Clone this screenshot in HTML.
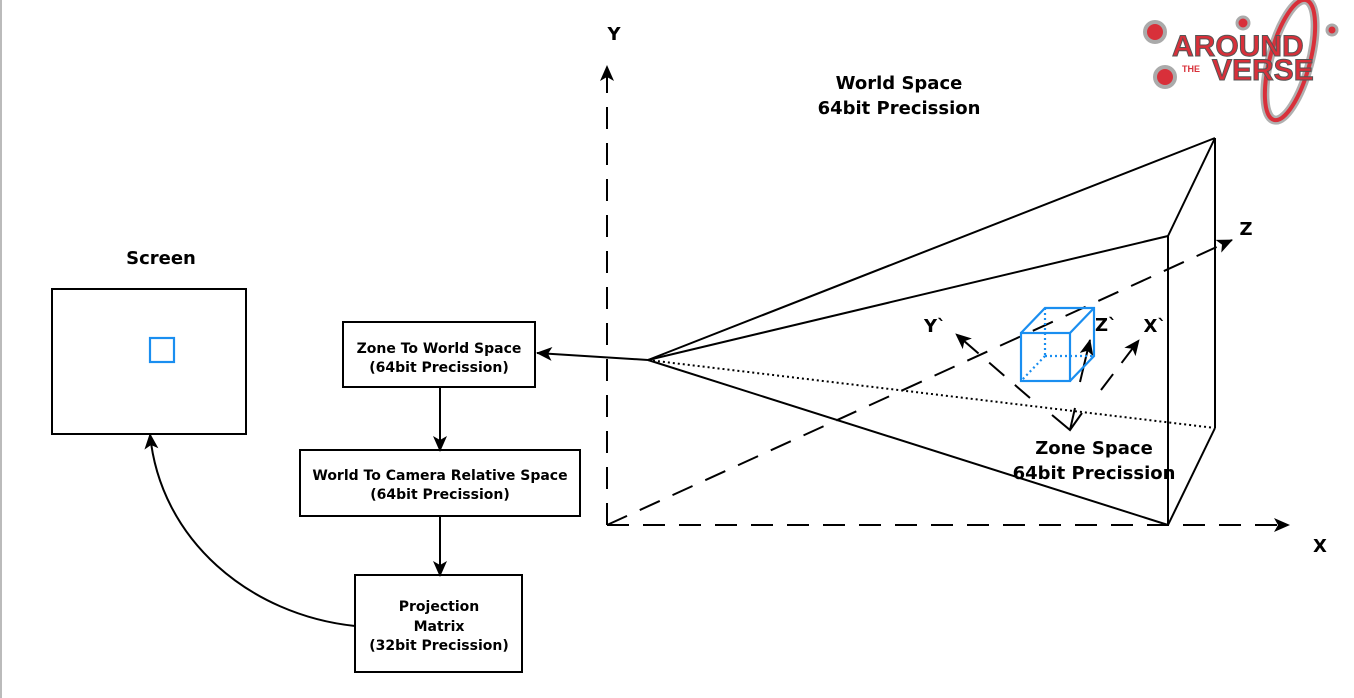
<!DOCTYPE html>
<html><head><style>
body{margin:0;background:#fff;}
svg{display:block;font-family:"DejaVu Sans","Liberation Sans",sans-serif;}
.l{font-size:18px;font-weight:bold;}
.m{font-size:18px;font-weight:bold;}
.s{font-size:14px;font-weight:bold;}
</style></head><body>
<svg width="1354" height="698" viewBox="0 0 1354 698">
<defs>
<marker id="a" markerWidth="18" markerHeight="16" refX="15" refY="7" orient="auto" markerUnits="userSpaceOnUse"><path d="M0,0 L16,7 L0,14 L4,7z" fill="#000"/></marker>
</defs>
<rect x="0" y="0" width="2" height="698" fill="#bbb"/>
<g stroke="#000" stroke-width="2" fill="none">
<line x1="607" y1="525" x2="607" y2="66" stroke-dasharray="22,14" marker-end="url(#a)"/>
<line x1="607" y1="525" x2="1289" y2="525" stroke-dasharray="22,14" marker-end="url(#a)"/>
<line x1="607" y1="525" x2="1232" y2="240" stroke-dasharray="22,14" marker-end="url(#a)"/>
<line x1="648" y1="360" x2="1215" y2="138"/>
<line x1="648" y1="360" x2="1168" y2="236"/>
<line x1="648" y1="360" x2="1168" y2="525"/>
<line x1="648" y1="360" x2="1215" y2="428" stroke-dasharray="2,3"/>
<line x1="1168" y1="236" x2="1168" y2="525"/>
<line x1="1215" y1="138" x2="1215" y2="428"/>
<line x1="1168" y1="236" x2="1215" y2="138"/>
<line x1="1168" y1="525" x2="1215" y2="428"/>
<line x1="1030" y1="398" x2="956" y2="334" stroke-dasharray="20,14" marker-end="url(#a)"/>
<line x1="1101" y1="390" x2="1139" y2="340" stroke-dasharray="20,14" marker-end="url(#a)"/>
<line x1="1080" y1="382" x2="1090" y2="340" marker-end="url(#a)"/>
<line x1="1075" y1="408" x2="1070" y2="430"/>
<polyline points="1052,415 1070,430 1082,413"/>
<rect x="52" y="289" width="194" height="145"/>
<rect x="343" y="322" width="192" height="65"/>
<rect x="300" y="450" width="280" height="66"/>
<rect x="355" y="575" width="167" height="97"/>
<line x1="648" y1="360" x2="537" y2="353" marker-end="url(#a)"/>
<line x1="440" y1="387" x2="440" y2="451" marker-end="url(#a)"/>
<line x1="440" y1="516" x2="440" y2="576" marker-end="url(#a)"/>
<path d="M355,626 C250,615 160,540 150,434" marker-end="url(#a)"/>
</g>
<g stroke="#1a8ef0" stroke-width="2.2" fill="none">
<rect x="150" y="338" width="24" height="24"/>
<rect x="1021" y="333" width="49" height="48"/>
<polyline points="1021,333 1045,308 1094,308 1094,356 1070,381"/>
<line x1="1070" y1="333" x2="1094" y2="308"/>
<g stroke-dasharray="2,3"><line x1="1045" y1="308" x2="1045" y2="356"/><line x1="1045" y1="356" x2="1094" y2="356"/><line x1="1045" y1="356" x2="1021" y2="381"/></g>
</g>
<g fill="#000" text-anchor="middle">
<text x="614" y="40" class="l">Y</text>
<text x="1320" y="552" class="l">X</text>
<text x="1246" y="235" class="l">Z</text>
<text x="935" y="332" class="l">Y`</text>
<text x="1106" y="331" class="l">Z`</text>
<text x="1155" y="332" class="l">X`</text>
<text x="899" y="89" class="m">World Space</text>
<text x="899" y="114" class="m">64bit Precission</text>
<text x="1094" y="454" class="m">Zone Space</text>
<text x="1094" y="479" class="m">64bit Precission</text>
<text x="161" y="264" class="l">Screen</text>
<text x="439" y="353" class="s">Zone To World Space</text>
<text x="439" y="372" class="s">(64bit Precission)</text>
<text x="440" y="480" class="s">World To Camera Relative Space</text>
<text x="440" y="499" class="s">(64bit Precission)</text>
<text x="439" y="611" class="s">Projection</text>
<text x="439" y="631" class="s">Matrix</text>
<text x="439" y="650" class="s">(32bit Precission)</text>
</g>
<g>
<ellipse cx="1290" cy="60" rx="20" ry="62" transform="rotate(15 1290 60)" fill="none" stroke="#b0b0b0" stroke-width="9"/>
<ellipse cx="1290" cy="60" rx="20" ry="62" transform="rotate(15 1290 60)" fill="none" stroke="#d8303a" stroke-width="4"/>
<circle cx="1155" cy="32" r="10" fill="#d8303a" stroke="#aaa" stroke-width="4"/>
<circle cx="1165" cy="77" r="10" fill="#d8303a" stroke="#aaa" stroke-width="4"/>
<circle cx="1243" cy="23" r="6" fill="#d8303a" stroke="#aaa" stroke-width="3"/>
<circle cx="1332" cy="30" r="5" fill="#d8303a" stroke="#aaa" stroke-width="3"/>
<text x="1172" y="56" style="font-size:30px;font-weight:bold" fill="#d8303a" stroke="#555" stroke-width="1" font-family="Liberation Sans,sans-serif">AROUND</text>
<text x="1212" y="80" style="font-size:30px;font-weight:bold" fill="#d8303a" stroke="#555" stroke-width="1" font-family="Liberation Sans,sans-serif">VERSE</text>
<text x="1182" y="72" style="font-size:9px;font-weight:bold" fill="#d8303a" font-family="Liberation Sans,sans-serif">THE</text>
</g>
</svg>
</body></html>
